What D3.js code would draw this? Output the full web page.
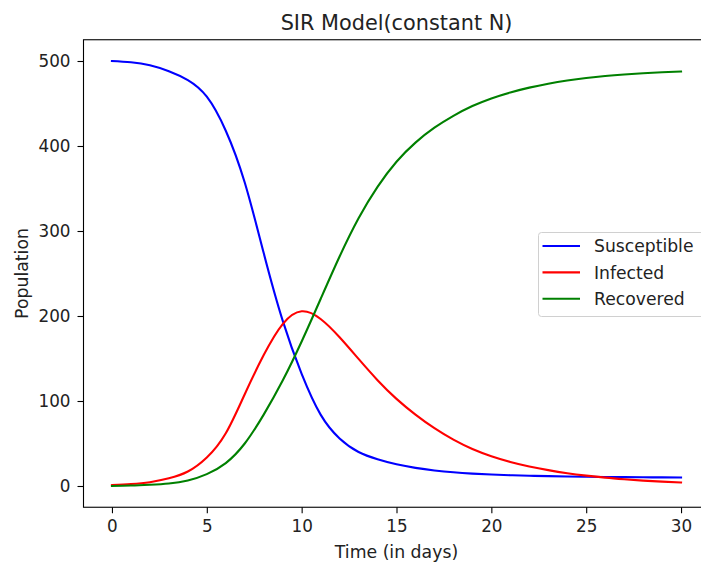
<!DOCTYPE html>
<html>
<head>
<meta charset="utf-8">
<script src="https://cdn.jsdelivr.net/npm/d3@7"></script>
<style>
  html, body { margin: 0; padding: 0; background: #fff; }
  svg { display: block; font-family: "DejaVu Sans", sans-serif; }
</style>
</head>
<body>
<svg id="chart" width="701" height="563"></svg>
<script>
const days = d3.range(0, 31);
const susceptible = [500, 498.5, 495, 488, 477.5, 458, 418, 357, 274, 194.5, 132, 84, 56, 40, 31.5, 25.5, 21.3, 18.3, 16.1, 14.6, 13.5, 12.7, 12.1, 11.6, 11.2, 10.9, 10.6, 10.4, 10.25, 10.1, 10];
const infected = [1, 2.3, 4.5, 9, 17, 33.5, 62, 108, 154, 190.5, 205.5, 196.5, 175, 149.5, 124.5, 102.5, 84, 68, 54.5, 43.5, 35, 28.3, 23, 18.7, 15.1, 12.2, 9.8, 7.9, 6.3, 5.1, 4.1];
const recovered = [0, 0.5, 1.5, 3, 6.5, 14, 27, 50, 84, 124, 170, 220, 270, 315, 352, 381.5, 404, 421.5, 435.5, 447, 456, 463, 468.7, 473.3, 477, 480, 482.4, 484.2, 485.6, 486.7, 487.6];
const seriesNames = ["Susceptible", "Infected", "Recovered"];
const seriesColors = ["#0000ff", "#ff0000", "#008000"];
const xTicks = [0, 5, 10, 15, 20, 25, 30];
const yTicks = [0, 100, 200, 300, 400, 500];

(function () {
const svg = d3.select("#chart");
const pL = 83.5, pR = 709.5, pT = 39.75, pB = 507.25;
const x = d3.scaleLinear().domain([-1.5, 31.5]).range([pL, pR]);
const y = d3.scaleLinear().domain([-25, 525]).range([pB, pT]);

const seriesData = [susceptible, infected, recovered];
const line = d3.line()
  .x((d, i) => x(days[i]))
  .y(d => y(d))
  .curve(d3.curveNatural);

const g = svg.append("g");
seriesData.forEach((vals, k) => {
  g.append("path")
    .attr("d", line(vals))
    .attr("fill", "none")
    .attr("stroke", seriesColors[k])
    .attr("stroke-width", 2.1)
    .attr("stroke-linejoin", "round")
    .attr("stroke-linecap", "square");
});

// axes
const xAxis = d3.axisBottom(x).tickValues(xTicks).tickSize(6).tickPadding(7).tickSizeOuter(0);
const yAxis = d3.axisLeft(y).tickValues(yTicks).tickSize(6).tickPadding(7).tickSizeOuter(0);
const gx = svg.append("g").attr("transform", `translate(0,${pB})`).call(xAxis);
const gy = svg.append("g").attr("transform", `translate(${pL},0)`).call(yAxis);
[gx, gy].forEach(a => {
  a.select(".domain").remove();
  a.selectAll(".tick line").attr("stroke", "#000").attr("stroke-width", 1.1);
  a.selectAll(".tick text").attr("fill", "#222").style("font-size", "16.8px").style("font-family", "DejaVu Sans");
});

// frame
svg.append("rect")
  .attr("x", pL).attr("y", pT)
  .attr("width", pR - pL).attr("height", pB - pT)
  .attr("fill", "none").attr("stroke", "#000").attr("stroke-width", 1.1);

// title & labels
svg.append("text").attr("x", (pL + pR) / 2).attr("y", 29.5)
  .attr("text-anchor", "middle").style("font-size", "20.8px").attr("fill", "#222")
  .text("SIR Model(constant N)");
svg.append("text").attr("x", (pL + pR) / 2).attr("y", 557.5)
  .attr("text-anchor", "middle").style("font-size", "17.3px").attr("fill", "#222")
  .text("Time (in days)");
svg.append("text").attr("transform", `translate(28,${(pT + pB) / 2}) rotate(-90)`)
  .attr("text-anchor", "middle").style("font-size", "17.3px").attr("fill", "#222")
  .text("Population");

// legend
const lg = svg.append("g");
lg.append("rect").attr("x", 538.5).attr("y", 232.5).attr("width", 180).attr("height", 84)
  .attr("rx", 3).attr("fill", "#fff").attr("fill-opacity", 0.8)
  .attr("stroke", "#d0d0d0").attr("stroke-width", 1);
seriesNames.forEach((name, k) => {
  const yy = 246 + k * 26.4;
  lg.append("line").attr("x1", 542.5).attr("x2", 580).attr("y1", yy).attr("y2", yy)
    .attr("stroke", seriesColors[k]).attr("stroke-width", 2.1);
  lg.append("text").attr("x", 594).attr("y", yy).attr("dy", "0.36em")
    .style("font-size", "17.2px").attr("fill", "#222").text(name);
});
})();
</script>
</body>
</html>
